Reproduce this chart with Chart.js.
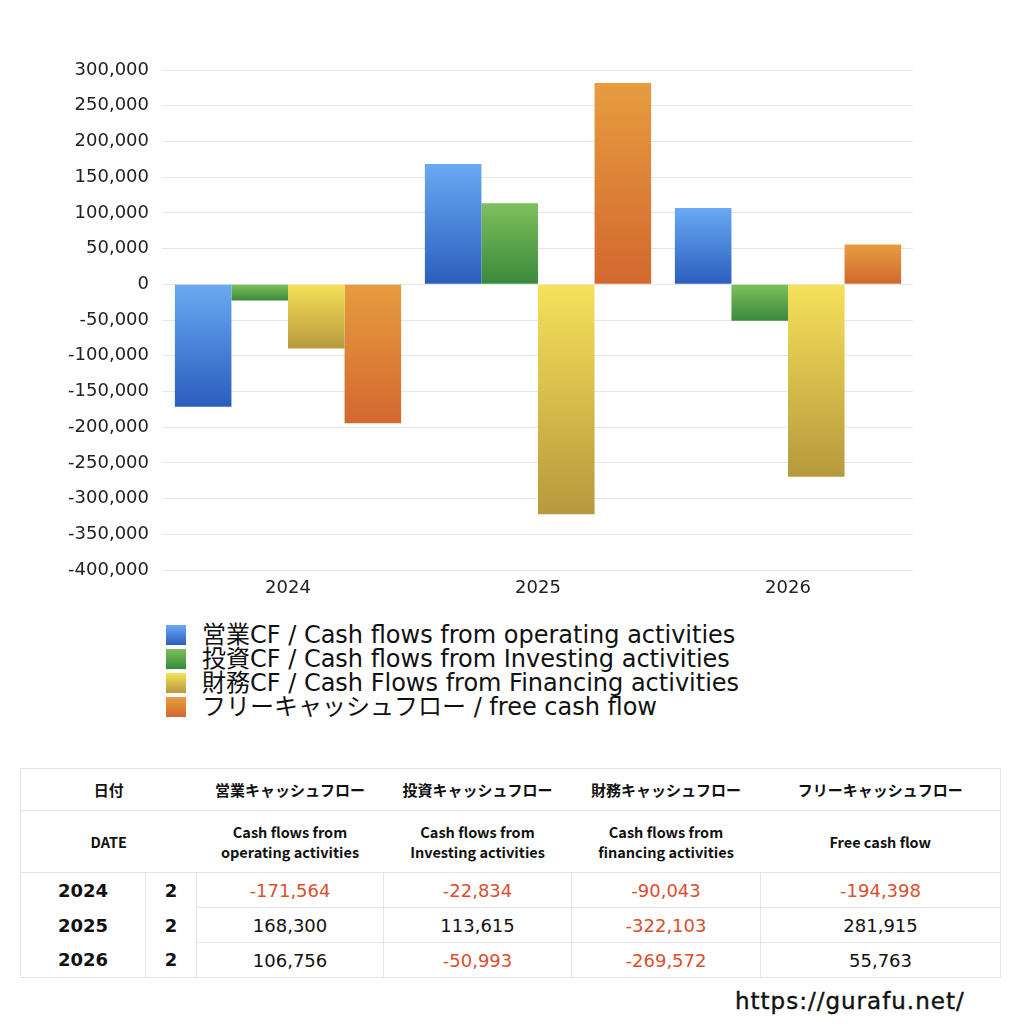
<!DOCTYPE html>
<html lang="ja">
<head>
<meta charset="utf-8">
<script src="https://cdn.jsdelivr.net/npm/chart.js@4/dist/chart.umd.min.js"></script>
<style>
  html, body { margin: 0; padding: 0; background: #fff; }
  body { width: 1024px; height: 1024px; position: relative; overflow: hidden;
         font-family: "DejaVu Sans", "Noto Sans CJK JP", sans-serif; color: #111; }
  #chartBox { position: absolute; left: 0; top: 0; width: 1024px; height: 610px; }
  #legend { position: absolute; left: 166px; top: 623px; }
  .lg-row { display: flex; align-items: center; height: 24px; font-size: 24px; line-height: 24px; color: #111; }
  .lg-box { width: 20px; height: 20px; margin-right: 16px; flex: none; }
  #cfTable { position: absolute; left: 20px; top: 768px; border-collapse: collapse;
             table-layout: fixed; width: 980px; border: 1px solid #e4e4e4; }
  #cfTable td { padding: 0; text-align: center; vertical-align: middle; }
  #cfTable tr.h1 td { height: 41px; font-size: 15px; font-weight: bold; border-bottom: 1px solid #e4e4e4;
                      font-family: "Noto Sans CJK JP", sans-serif; }
  #cfTable tr.h2 td { height: 61px; font-size: 14.5px; font-weight: bold; line-height: 20px; border-bottom: 1px solid #e4e4e4;
                      font-family: "Noto Sans CJK JP", sans-serif; }
  #cfTable tr.d td { height: 34px; font-size: 18px; }
  #cfTable tr.d td.yr { font-weight: bold; border-right: 1px solid #e4e4e4; }
  #cfTable tr.d td.num { border-left: 1px solid #e4e4e4; }
  #cfTable tr.d.notlast td.num { border-bottom: 1px solid #e4e4e4; }
  #cfTable .neg { color: #d9502f; }
  #site { position: absolute; left: 735px; top: 988px; font-size: 23px; letter-spacing: 1px; color: #111;
          -webkit-text-stroke: 0.4px #111; }
</style>
</head>
<body>
<div id="chartBox"><canvas id="cfChart" width="1024" height="610"></canvas></div>
<div id="legend"></div>
<table id="cfTable"></table>
<div id="site">https://gurafu.net/</div>

<script>
const years = ['2024', '2025', '2026'];
const months = [2, 2, 2];
const operatingCF = [-171564, 168300, 106756];
const investingCF = [-22834, 113615, -50993];
const financingCF = [-90043, -322103, -269572];
const freeCF = [-194398, 281915, 55763];

const seriesLabels = [
  '営業CF / Cash flows from operating activities',
  '投資CF / Cash flows from Investing activities',
  '財務CF / Cash Flows from Financing activities',
  'フリーキャッシュフロー / free cash flow'
];
const headJa = ['営業キャッシュフロー', '投資キャッシュフロー', '財務キャッシュフロー', 'フリーキャッシュフロー'];
const headEn = ['Cash flows from<br>operating activities', 'Cash flows from<br>Investing activities',
                'Cash flows from<br>financing activities', 'Free cash flow'];

const yMin = -400000, yMax = 300000, yStep = 50000;

// top / bottom colours of each bar gradient
const gradColors = [
  ['#6aa9f2', '#2a5ebe'],
  ['#7ec05c', '#3a893b'],
  ['#f6e15a', '#b6993d'],
  ['#e79c3f', '#d3682f']
];

const fmt = v => v.toLocaleString('en-US');
const tickFont = { size: 18, family: '"DejaVu Sans", sans-serif' };

function barGradient(top, bottom) {
  return function (ctx) {
    const chart = ctx.chart;
    const y = chart.scales && chart.scales.y;
    if (!y || ctx.type !== 'data' || !chart.chartArea) return top;
    const y0 = y.getPixelForValue(0);
    const y1 = y.getPixelForValue(ctx.raw);
    const a = Math.min(y0, y1), b = Math.max(y0, y1);
    const g = chart.ctx.createLinearGradient(0, a, 0, b === a ? a + 1 : b);
    g.addColorStop(0, top);
    g.addColorStop(1, bottom);
    return g;
  };
}

const seriesData = [operatingCF, investingCF, financingCF, freeCF];

new Chart(document.getElementById('cfChart'), {
  type: 'bar',
  data: {
    labels: years,
    datasets: seriesData.map((d, i) => ({
      label: seriesLabels[i],
      data: d,
      backgroundColor: barGradient(gradColors[i][0], gradColors[i][1]),
      borderWidth: 0,
      categoryPercentage: 0.905,
      barPercentage: 1.0
    }))
  },
  options: {
    responsive: false,
    animation: false,
    layout: { padding: { left: 0, right: 111, top: 70, bottom: 10 } },
    plugins: {
      legend: { display: false },
      tooltip: { enabled: false }
    },
    scales: {
      x: {
        grid: { display: false },
        border: { display: false },
        ticks: { color: '#222', font: tickFont, padding: 0 },
        afterFit: s => { s.height = 30; }
      },
      y: {
        min: yMin,
        max: yMax,
        grid: { color: '#e6e6e6', drawTicks: false },
        border: { display: false },
        ticks: {
          stepSize: yStep,
          padding: 14,
          color: '#222',
          font: tickFont,
          callback: v => fmt(v)
        },
        afterFit: s => { s.width = 163; }
      }
    }
  }
});

// legend
const legend = document.getElementById('legend');
seriesLabels.forEach((lab, i) => {
  const row = document.createElement('div');
  row.className = 'lg-row';
  const box = document.createElement('span');
  box.className = 'lg-box';
  box.style.background = 'linear-gradient(' + gradColors[i][0] + ',' + gradColors[i][1] + ')';
  const txt = document.createElement('span');
  txt.textContent = lab;
  row.appendChild(box);
  row.appendChild(txt);
  legend.appendChild(row);
});

// data table
const colW = [125, 51, 187, 188, 189, 240];
let html = '<colgroup>' + colW.map(w => '<col style="width:' + w + 'px">').join('') + '</colgroup>';
html += '<tr class="h1"><td colspan="2">日付</td>' + headJa.map(h => '<td>' + h + '</td>').join('') + '</tr>';
html += '<tr class="h2"><td colspan="2">DATE</td>' + headEn.map(h => '<td>' + h + '</td>').join('') + '</tr>';
years.forEach((yr, r) => {
  html += '<tr class="d' + (r < years.length - 1 ? ' notlast' : '') + '">';
  html += '<td class="yr">' + yr + '</td><td class="yr">' + months[r] + '</td>';
  seriesData.forEach(d => {
    const v = d[r];
    html += '<td class="num' + (v < 0 ? ' neg' : '') + '">' + fmt(v) + '</td>';
  });
  html += '</tr>';
});
document.getElementById('cfTable').innerHTML = html;
</script>
</body>
</html>
